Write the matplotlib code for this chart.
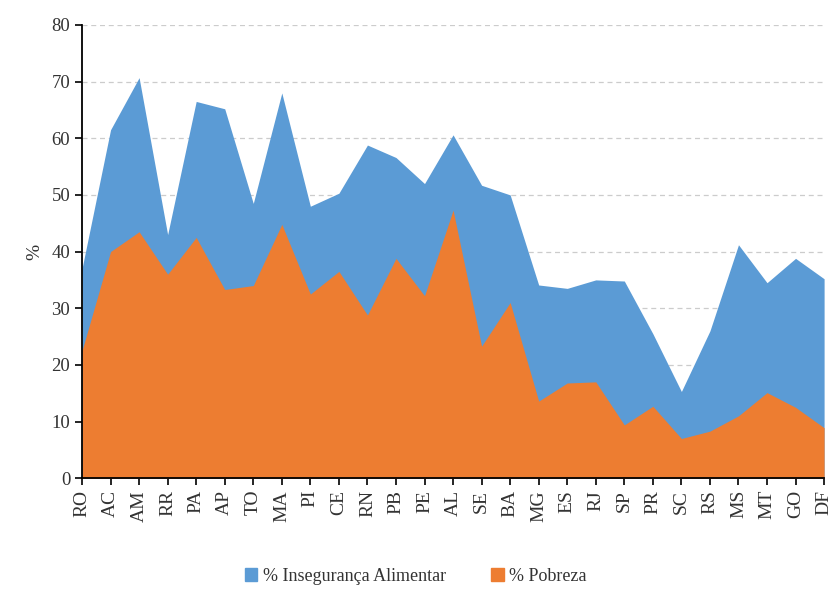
import matplotlib.pyplot as plt
from matplotlib.patches import Patch
import numpy as np

estados = ['RO', 'AC', 'AM', 'RR', 'PA', 'AP', 'TO', 'MA', 'PI', 'CE', 'RN', 'PB', 'PE',
           'AL', 'SE', 'BA', 'MG', 'ES', 'RJ', 'SP', 'PR', 'SC', 'RS', 'MS', 'MT', 'GO', 'DF']
inseguranca = [37, 61.5, 70.7, 43, 66.5, 65.2, 48.5, 68, 48, 50.3, 58.8, 56.6, 52,
               60.6, 51.7, 50.0, 34.1, 33.5, 35, 34.8, 25.5, 15.3, 26, 41.2, 34.5, 38.8, 35.2]
pobreza = [22.5, 40, 43.5, 36, 42.5, 33.3, 34, 44.8, 32.5, 36.5, 28.8, 38.8, 32.2,
           47.3, 23.3, 31, 13.6, 16.8, 17, 9.4, 12.7, 7.0, 8.3, 11, 15.1, 12.5, 8.9]

plt.rcParams['font.family'] = ['Liberation Serif', 'DejaVu Serif']

azul = '#5B9BD5'
laranja = '#ED7D31'

fig = plt.figure(figsize=(8.31, 5.94), dpi=100)
ax = fig.add_axes([0.0987, 0.195, 0.893, 0.763])

x = np.arange(len(estados))
ax.fill_between(x, inseguranca, color=azul, linewidth=0, zorder=2)
ax.fill_between(x, pobreza, color=laranja, linewidth=0, zorder=3)

ax.set_xlim(0, len(estados) - 1)
ax.set_ylim(0, 80)
ax.set_yticks(range(0, 81, 10))
ax.set_xticks(x)
ax.set_xticklabels(estados, rotation=90, fontsize=14)
ax.tick_params(axis='y', labelsize=13.5, length=5, width=1.2, labelcolor='#333333')
ax.tick_params(axis='x', length=5, width=1.2, labelcolor='#333333')
ax.grid(axis='y', linestyle=(0, (4, 3)), color='#cccccc', linewidth=0.9, zorder=0)
ax.set_axisbelow(True)

for s in ['top', 'right']:
    ax.spines[s].set_visible(False)
for s in ['left', 'bottom']:
    ax.spines[s].set_linewidth(1.3)
    ax.spines[s].set_zorder(5)

ax.set_ylabel('%', fontsize=14, labelpad=6, color='#333333')

handles = [Patch(color=azul, label='% Insegurança Alimentar'),
           Patch(color=laranja, label='% Pobreza')]
fig.legend(handles=handles, loc='lower center', bbox_to_anchor=(0.5, -0.012), ncol=2,
           frameon=False, fontsize=13, handlelength=0.7, handleheight=0.7,
           handletextpad=0.3, columnspacing=2.5, labelcolor='#333333')

fig.savefig('out.png', dpi=100)
